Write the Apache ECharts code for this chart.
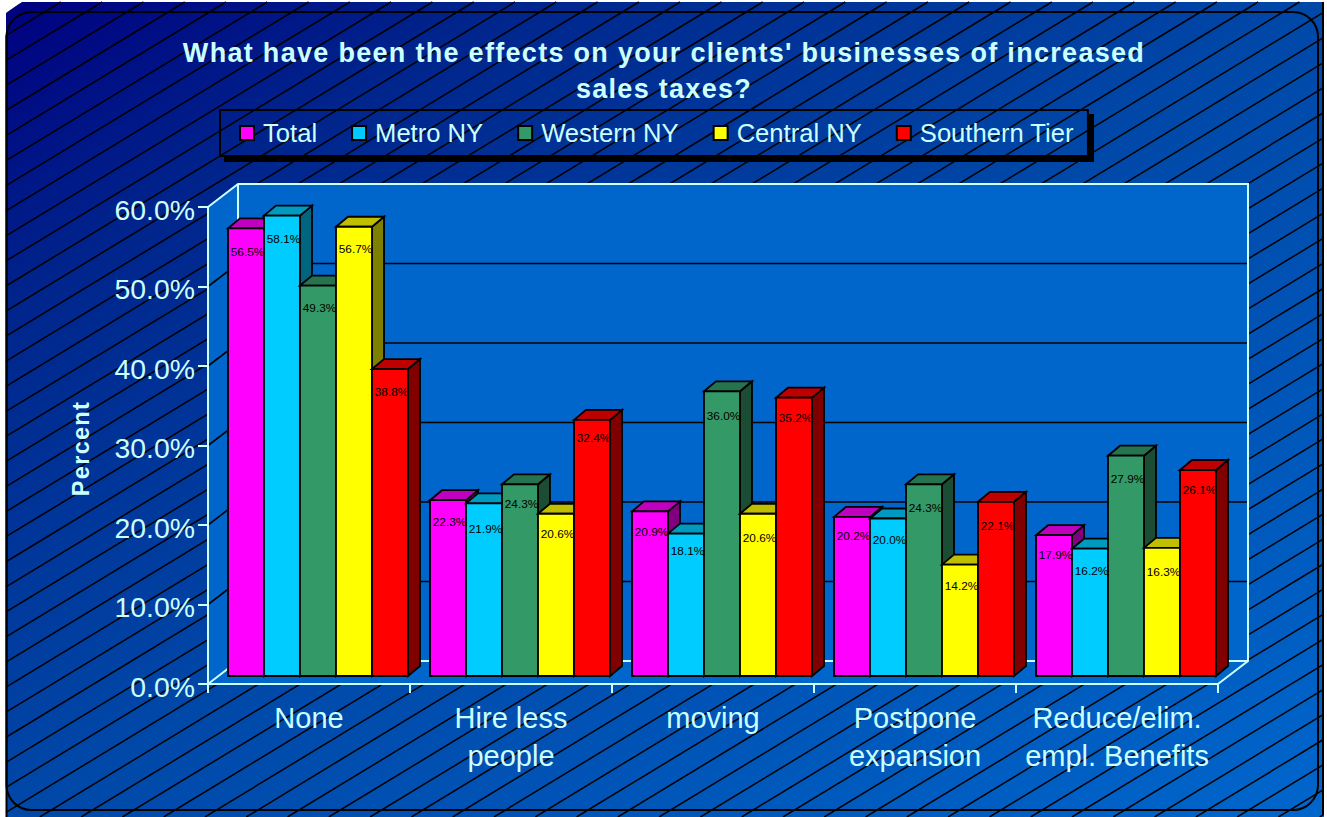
<!DOCTYPE html>
<html>
<head>
<meta charset="utf-8">
<style>
html,body{margin:0;padding:0;background:#fff;}
#chart{width:1327px;height:817px;}
#chart text[style*="bold"]{letter-spacing:1.3px;}
</style>
<script src="https://cdn.jsdelivr.net/npm/echarts@6/dist/echarts.min.js"></script>
</head>
<body>
<div id="chart"></div>
<script>
const titleText = "What have been the effects on your clients' businesses of increased\nsales taxes?";
const yAxisName = "Percent";
const categories = ["None", "Hire less\npeople", "moving", "Postpone\nexpansion", "Reduce/elim.\nempl. Benefits"];
const seriesNames = ["Total", "Metro NY", "Western NY", "Central NY", "Southern Tier"];
const total = [56.5, 22.3, 20.9, 20.2, 17.9];
const metroNY = [58.1, 21.9, 18.1, 20.0, 16.2];
const westernNY = [49.3, 24.3, 36.0, 24.3, 27.9];
const centralNY = [56.7, 20.6, 20.6, 14.2, 16.3];
const southernTier = [38.8, 32.4, 35.2, 22.1, 26.1];
const allValues = [total, metroNY, westernNY, centralNY, southernTier];

// styling, kept apart from the data
const faceColors = ["#FF00FF", "#00CCFF", "#339966", "#FFFF00", "#FF0000"];
const topColors = ["#BF00BF", "#0099BF", "#267350", "#BFBF00", "#BF0000"];
const sideColors = ["#800080", "#006680", "#1A4D33", "#808000", "#800000"];
const labelDrops = [
  [24, 22, 21, 19, 20],
  [23, 26, 17, 21, 22],
  [22, 20, 25, 24, 23],
  [22, 20, 24, 21, 24],
  [23, 18, 20, 24, 20]
];
const INK = "#CCFFFF";
const FONT = "'Liberation Sans', Arial, sans-serif";
const WALL = [30, -23];     // depth of the whole plot box
const BAR_SHIFT = [9, -8];  // bars stand a little way into the box
const TOP_EASE = 1.5;       // bar tops sit slightly under the scale, as in the source
const CAP = [12, -10];      // depth of one bar
const BAR_W = 36;

function hatchLines() {
  const slope = 0.6072, step = 25.07, x0 = 6, x1 = 1323.5, y0 = 2, y1 = 817;
  const out = [];
  for (let c = 64 - step * 5; c < 64 + step * 80; c += step) {
    let ax = x0, ay = c - slope * x0, bx = x1, by = c - slope * x1;
    if (ay > y1) { ax = (c - y1) / slope; ay = y1; }
    if (by < y0) { bx = (c - y0) / slope; by = y0; }
    if (ax >= bx) continue;
    out.push({type: 'line', silent: true, z: -90,
      shape: {x1: ax, y1: ay, x2: bx, y2: by},
      style: {stroke: '#000', lineWidth: 1.5}});
  }
  return out;
}

function wallsItem(params, api) {
  const cs = params.coordSys;
  const L = cs.x, R = cs.x + cs.width, T = cs.y, B = cs.y + cs.height;
  const dx = WALL[0], dy = WALL[1];
  const children = [
    {type: 'polygon', shape: {points: [[L + dx, T + dy], [R + dx, T + dy], [R + dx, B + dy], [R, B], [L, B], [L, T]]},
      style: {fill: '#0066CC', stroke: 'none'}}
  ];
  [10, 20, 30, 40, 50].forEach(function (v) {
    const y = api.coord([0, v])[1];
    children.push({type: 'polyline', shape: {points: [[L, y], [L + dx, y + dy], [R + dx, y + dy]]},
      style: {fill: 'none', stroke: '#000', lineWidth: 1.6}});
  });
  const edge = {fill: 'none', stroke: INK, lineWidth: 2};
  children.push({type: 'polyline', shape: {points: [[L, T], [L + dx, T + dy], [R + dx, T + dy], [R + dx, B + dy], [R, B]]}, style: edge});
  children.push({type: 'polyline', shape: {points: [[L, B], [L + dx, B + dy], [R + dx, B + dy]]}, style: edge});
  children.push({type: 'line', shape: {x1: L + dx, y1: T + dy, x2: L + dx, y2: B + dy}, style: edge});
  return {type: 'group', children: children};
}

function barItem(si) {
  return function (params, api) {
    const cat = api.value(0), val = api.value(1);
    const base = api.coord([cat, 0]), top = api.coord([cat, val]);
    const groupW = BAR_W * seriesNames.length;
    const x = base[0] + BAR_SHIFT[0] - groupW / 2 + si * BAR_W;
    const yb = base[1] + BAR_SHIFT[1], yt = top[1] + BAR_SHIFT[1] + TOP_EASE;
    const cx = CAP[0], cy = CAP[1], w = BAR_W;
    const line = {stroke: '#000', lineWidth: 1.8, lineJoin: 'miter'};
    return {type: 'group', children: [
      {type: 'polygon', shape: {points: [[x + w, yt], [x + w + cx, yt + cy], [x + w + cx, yb + cy], [x + w, yb]]},
        style: Object.assign({fill: sideColors[si]}, line)},
      {type: 'polygon', shape: {points: [[x, yt], [x + cx, yt + cy], [x + w + cx, yt + cy], [x + w, yt]]},
        style: Object.assign({fill: topColors[si]}, line)},
      {type: 'rect', shape: {x: x, y: yt, width: w, height: yb - yt},
        style: Object.assign({fill: faceColors[si]}, line)},
      {type: 'text', z2: 100, style: {
        x: x + w / 2 + 1.5, y: yt + labelDrops[si][cat],
        text: val.toFixed(1) + '%', align: 'center', verticalAlign: 'middle',
        fill: '#000', font: "11.8px " + FONT}}
    ]};
  };
}

const barSeries = seriesNames.map(function (name, si) {
  return {
    type: 'custom', name: name, silent: true, z: 2,
    itemStyle: {color: faceColors[si]},
    encode: {x: 0, y: 1},
    data: allValues[si].map(function (v, i) { return [i, v]; }),
    renderItem: barItem(si),
    animation: false
  };
});

const chart = echarts.init(document.getElementById('chart'), null, {renderer: 'svg'});
chart.setOption({
  animation: false,
  title: {
    text: titleText, left: 659, top: 30, textAlign: 'center',
    textStyle: {color: INK, fontFamily: FONT, fontWeight: 'bold', fontSize: 27, lineHeight: 36}
  },
  legend: {
    data: seriesNames, left: 220, top: 110, orient: 'horizontal',
    selectedMode: false, icon: 'rect', itemWidth: 14, itemHeight: 14, itemGap: 34,
    padding: [10, 14, 10, 19], borderColor: '#000', borderWidth: 2, backgroundColor: 'transparent',
    itemStyle: {borderColor: '#000', borderWidth: 2},
    textStyle: {color: INK, fontFamily: FONT, fontSize: 25.6, padding: [0, 0, 0, 4]}
  },
  grid: {left: 208, right: 109, top: 207, bottom: 133},
  xAxis: {
    type: 'category', data: categories, boundaryGap: true,
    axisLine: {lineStyle: {color: INK, width: 2}},
    axisTick: {show: true, length: 9, lineStyle: {color: INK, width: 2}},
    axisLabel: {color: INK, fontFamily: FONT, fontSize: 29, lineHeight: 38, margin: 15, interval: 0},
    splitLine: {show: false}
  },
  yAxis: {
    type: 'value', min: 0, max: 60, interval: 10,
    name: yAxisName, nameLocation: 'middle', nameGap: 115, nameRotate: 90,
    nameTextStyle: {color: INK, fontFamily: FONT, fontWeight: 'bold', fontSize: 23.5, padding: [0, 6, 0, 0]},
    axisLine: {show: true, lineStyle: {color: INK, width: 2}},
    axisTick: {show: true, length: 10, lineStyle: {color: INK, width: 2}},
    axisLabel: {margin: 13,
      formatter: function (v) { return '{tick|' + v.toFixed(1) + '%}'; },
      rich: {tick: {color: INK, fontFamily: FONT, fontSize: 28.4, padding: [5, 0, 0, 0]}}},
    splitLine: {show: false}
  },
  graphic: {elements: [
    {type: 'polygon', silent: true, z: -100,
      shape: {points: [[22, 2], [1324, 2], [1324, 817], [6, 817], [6, 12]]},
      style: {fill: new echarts.graphic.LinearGradient(0, 0, 1, 1, [
        {offset: 0, color: '#000080'}, {offset: 0.19, color: '#00258C'},
        {offset: 0.5, color: '#0048A8'}, {offset: 1, color: '#0066CC'}])}}
  ].concat(hatchLines(), [
    {type: 'polygon', silent: true, z: -80,
      shape: {points: [[0, 0], [24, 0], [6, 13], [0, 13]]}, style: {fill: '#fff'}},
    {type: 'rect', silent: true, z: -80, shape: {x: 6.5, y: 12, width: 1311.5, height: 798, r: 25},
      style: {fill: 'none', stroke: '#000', lineWidth: 2}},
    {type: 'line', silent: true, z: -80, shape: {x1: 6.5, y1: 35, x2: 6.5, y2: 817},
      style: {stroke: '#000', lineWidth: 2}},
    {type: 'line', silent: true, z: -80, shape: {x1: 1323, y1: 2, x2: 1323, y2: 815},
      style: {stroke: '#000', lineWidth: 2}},
    {type: 'rect', silent: true, z: -70, shape: {x: 224, y: 156, width: 870, height: 6}, style: {fill: '#000'}},
    {type: 'rect', silent: true, z: -70, shape: {x: 1088, y: 114, width: 6, height: 48}, style: {fill: '#000'}}
  ])},
  series: [{
    type: 'custom', name: 'walls', silent: true, z: -5, animation: false,
    encode: {x: 0, y: 1}, data: [[0, 0]], renderItem: wallsItem
  }].concat(barSeries)
});
</script>
</body>
</html>
